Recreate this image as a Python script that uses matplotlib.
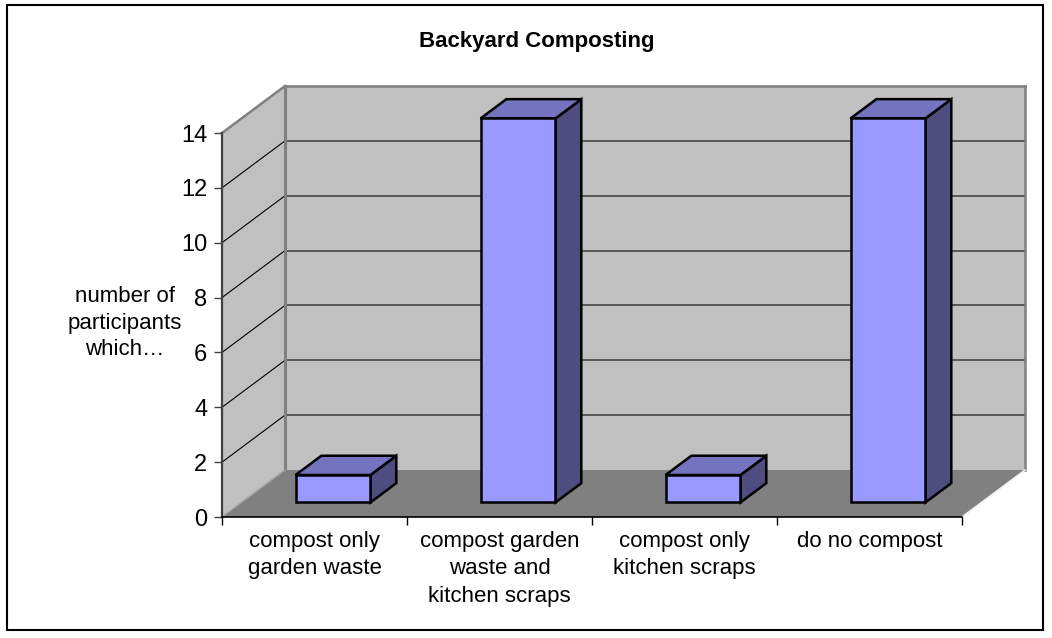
import numpy as np
import matplotlib
matplotlib.use("Agg")
import matplotlib.pyplot as plt
from matplotlib.patches import Polygon, Rectangle
from matplotlib.lines import Line2D
from matplotlib.transforms import IdentityTransform

plt.rcParams['font.family'] = ['Liberation Sans', 'DejaVu Sans']

title = "Backyard Composting"
categories = ["compost only\ngarden waste",
              "compost garden\nwaste and\nkitchen scraps",
              "compost only\nkitchen scraps",
              "do no compost"]
values = [1, 14, 1, 14]
y_ticks = [0, 2, 4, 6, 8, 10, 12, 14]
y_label = "number of\nparticipants\nwhich\u2026"

W, H = 1052, 638
fig = plt.figure(figsize=(W / 100, H / 100), dpi=100)
fig.patch.set_facecolor("white")

# front plane axes (value 0..14, categories 0..4)
x_left, x_right = 222, 962
y0_px, y14_px = 517, 133
ax = fig.add_axes([x_left / W, (H - y0_px) / H, (x_right - x_left) / W, (y0_px - y14_px) / H])
ax.set_xlim(0, len(categories))
ax.set_ylim(0, 14)
ax.patch.set_visible(False)

DX, DY = 63, 47  # depth offset in pixels
ident = IdentityTransform()


def P(x, v, d):
    px, py = ax.transData.transform((x, v))
    return (px + DX * d, py + DY * d)


def poly(pts, fc, ec="none", lw=0, z=1):
    ax.add_patch(Polygon(pts, closed=True, facecolor=fc, edgecolor=ec, linewidth=lw,
                         transform=ident, clip_on=False, zorder=z, joinstyle="miter"))


def line(p1, p2, color, lw, z=2):
    ax.add_line(Line2D([p1[0], p2[0]], [p1[1], p2[1]], color=color, linewidth=lw,
                       transform=ident, clip_on=False, zorder=z))


n = len(categories)
vmax = 14
wall = "#C0C0C0"
# back wall
poly([P(0, 0, 1), P(n, 0, 1), P(n, vmax, 1), P(0, vmax, 1)], wall, z=0.5)
# left wall
poly([P(0, 0, 0), P(0, 0, 1), P(0, vmax, 1), P(0, vmax, 0)], wall, z=0.5)
# gridlines
for v in y_ticks[1:-1]:
    line(P(0, v, 1), P(n, v, 1), "#505050", 1.3, z=0.8)
    line(P(0, v, 0), P(0, v, 1), "black", 0.8, z=0.8)
# wall edges
line(P(0, vmax, 1), P(n, vmax, 1), "#808080", 1.8, z=0.9)
line(P(0, vmax, 0), P(0, vmax, 1), "#808080", 1.8, z=0.9)
line(P(n, 0, 1), P(n, vmax, 1), "#808080", 1.8, z=0.9)
line(P(0, 0, 1), P(0, vmax, 1), "#808080", 2.2, z=0.9)
# floor
poly([P(0, 0, 0), P(n, 0, 0), P(n, 0, 1), P(0, 0, 1)], "#808080", z=1)
line(P(n, 0, 0), P(n, 0, 1), "#F0F0F0", 1.2, z=1.1)
line(P(0, 0, 0), P(0, 0, 1), "#A0A0A0", 1.0, z=1.1)

# bars
bx0, bx1 = 0.292, 0.697
d0, d1 = 0.31, 0.72
for i, v in enumerate(values):
    x0, x1 = i + bx0, i + bx1
    ekw = dict(ec="black", lw=1.8, z=3)
    poly([P(x1, 0, d0), P(x1, 0, d1), P(x1, v, d1), P(x1, v, d0)], "#4D4D80", **ekw)
    poly([P(x0, v, d0), P(x1, v, d0), P(x1, v, d1), P(x0, v, d1)], "#7373BF", **ekw)
    poly([P(x0, 0, d0), P(x1, 0, d0), P(x1, v, d0), P(x0, v, d0)], "#9999FF", **ekw)

# axes spines & ticks
for s in ["top", "right"]:
    ax.spines[s].set_visible(False)
ax.spines["left"].set_color("#404040")
ax.spines["left"].set_linewidth(1.6)
ax.spines["bottom"].set_color("black")
ax.spines["bottom"].set_linewidth(1.2)
ax.spines["left"].set_zorder(2)
ax.spines["bottom"].set_zorder(2)

ax.set_yticks(y_ticks)
ax.set_yticklabels([str(t) for t in y_ticks], fontsize=17)
ax.tick_params(axis="y", length=5.5, width=1.0, color="#404040", pad=5, direction="out")

ax.set_xticks(np.arange(0, n + 1))
ax.set_xticklabels([])
ax.tick_params(axis="x", which="major", length=6, width=1.0, color="black", direction="out")
ax.set_xticks(np.arange(n) + 0.5, minor=True)
ax.set_xticklabels(categories, minor=True, fontsize=16, linespacing=1.4)
ax.tick_params(axis="x", which="minor", length=0, pad=10)

# y label
fig.text(125 / W, 1 - 323 / H, y_label, ha="center", va="center", fontsize=16,
         multialignment="center", linespacing=1.35)

# title
fig.text(537 / W, 1 - 41 / H, title, ha="center", va="center", fontsize=16, fontweight="bold")

# outer border
fig.add_artist(Rectangle((7 / W, 1 - 630 / H), (1043 - 7) / W, (630 - 5) / H,
                         transform=fig.transFigure, fill=False, edgecolor="black", linewidth=1.5))

fig.savefig("out.png", dpi=100, facecolor="white")
